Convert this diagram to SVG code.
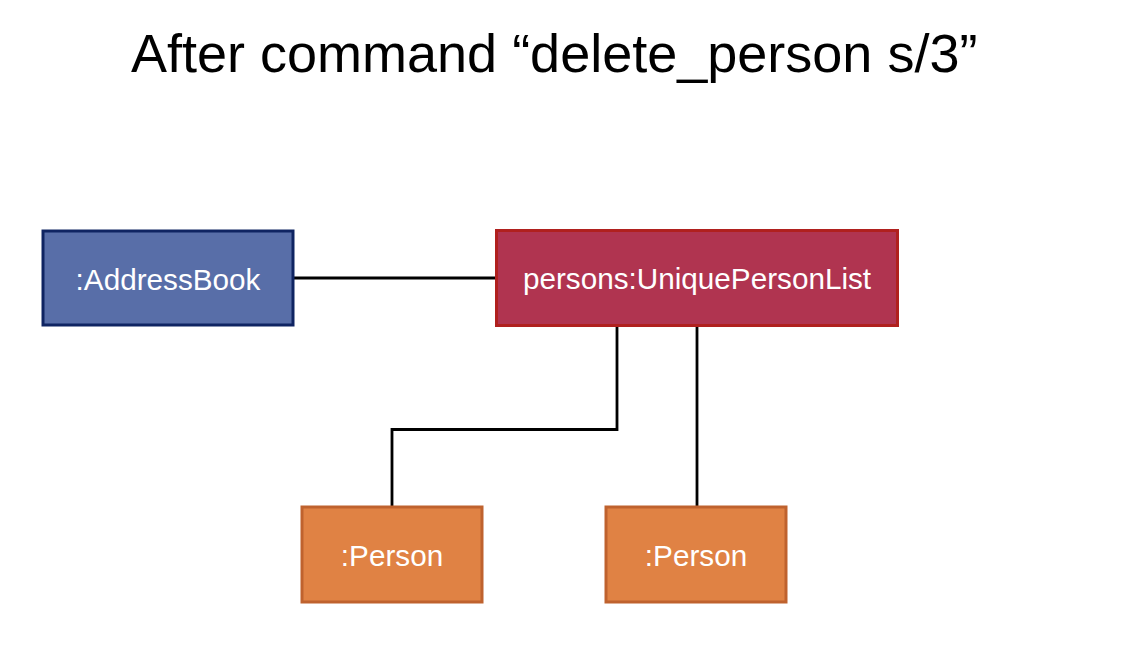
<svg xmlns="http://www.w3.org/2000/svg" width="1144" height="650" viewBox="0 0 1144 650">
<style>
.lbl{font-family:"Liberation Sans",Arial,sans-serif;font-size:29.7px;fill:#ffffff;text-anchor:middle}
.title{font-family:"Liberation Sans",Arial,sans-serif;font-size:54px;fill:#000000}
.conn{fill:none;stroke:#000000;stroke-width:2.8}
.ab{fill:#586ea8;stroke:#0f2462;stroke-width:3}
.upl{fill:#b03450;stroke:#b0201e;stroke-width:3}
.per{fill:#e08244;stroke:#bf622e;stroke-width:3}
</style>
<rect width="1144" height="650" fill="#ffffff"/>
<text class="title" x="131" y="72">After command “delete_person s/3”</text>
<g id="connectors">
<path class="conn" d="M293 278 H496"/>
<path class="conn" d="M617 326 V429.5 H392 V506"/>
<path class="conn" d="M697 326 V506"/>
</g>
<g id="addressbook">
<rect class="ab" x="43" y="231" width="250" height="94"/>
<text class="lbl" x="168" y="290">:AddressBook</text>
</g>
<g id="uniquepersonlist">
<rect class="upl" x="496.5" y="230.5" width="401" height="95"/>
<text class="lbl" x="697" y="289">persons:UniquePersonList</text>
</g>
<g id="person1">
<rect class="per" x="302" y="507" width="180" height="95"/>
<text class="lbl" x="392" y="566">:Person</text>
</g>
<g id="person2">
<rect class="per" x="606" y="507" width="180" height="95"/>
<text class="lbl" x="696" y="566">:Person</text>
</g>
</svg>
